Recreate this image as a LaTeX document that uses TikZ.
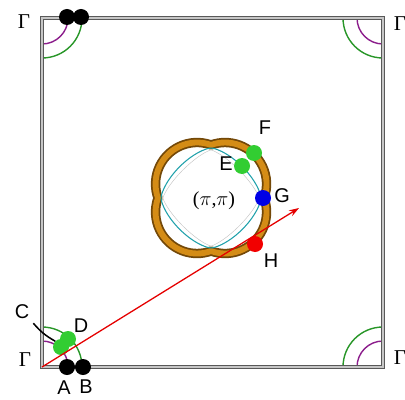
\documentclass[tikz,border=0pt]{standalone}
\usepackage{fontspec}
\setmainfont{Liberation Sans}
\newfontfamily\greekserif{Liberation Serif}
\usetikzlibrary{arrows.meta}

\definecolor{ringbrown}{RGB}{115,72,8}
\definecolor{ringorange}{RGB}{212,140,22}
\definecolor{fscyan}{RGB}{30,160,170}
\definecolor{arcgreen}{RGB}{40,150,40}
\definecolor{arcpurple}{RGB}{140,30,140}
\definecolor{dotgreen}{RGB}{50,205,50}

\begin{document}
\begin{tikzpicture}[x=0.03cm, y=-0.03cm, every node/.style={font=\fontsize{17}{20}\selectfont},
	dot/.style={circle, inner sep=0pt, minimum size=0.48cm},
	gam/.style={font=\greekserif\fontsize{18}{20}\selectfont},
	frame/.style={draw=gray!70!black, double=gray!45, double distance=1.2pt, line width=0.7pt},
	>={Stealth[length=3mm, width=2mm]}]
	\useasboundingbox (0,0) rectangle (405,399);
	% arcs round the Gamma corners
	\begin{scope}
		\clip (42,18) rectangle (383,367);
		\foreach \cx/\cy in {42/18, 383/18, 383/367, 42/367} {
			\draw[arcpurple, line width=1.2pt] (\cx,\cy) circle[radius=26];
			\draw[arcgreen, line width=1.2pt] (\cx,\cy) circle[radius=40];
		}
	\end{scope}
	\draw[frame] (42,18) rectangle (383,367);
	% Fermi surface round (pi,pi), drawn with y up
	\begin{scope}[shift={(211,198)}, yscale=-1]
		\foreach \col/\lw in {ringbrown/8pt, ringorange/5pt}
			\draw[\col, line width=\lw, line join=round] (53.1,0)
				arc[start angle=-19.7, end angle=109.7, radius=41.5]
				arc[start angle=70.3, end angle=199.7, radius=41.5]
				arc[start angle=160.3, end angle=289.7, radius=41.5]
				arc[start angle=250.3, end angle=379.7, radius=41.5] -- cycle;
		\draw[gray!45, line width=0.4pt] plot[domain=0.5:359.5, samples=72, smooth cycle]
			({48*sign(cos(\x))*abs(cos(\x))^1.55}, {48*sign(sin(\x))*abs(sin(\x))^1.55});
		\draw[fscyan, line width=0.9pt] plot[domain=0.5:359.5, samples=72, smooth cycle]
			({50*sign(cos(\x))*abs(cos(\x))^1.35}, {50*sign(sin(\x))*abs(sin(\x))^1.35});
	\end{scope}
	\node[font=\greekserif\fontsize{17}{20}\selectfont] (mpoint) at (214,201) {($\pi$,$\pi$)};
	% points
	\node[dot, fill=black] (topA) at (67,17) {};
	\node[dot, fill=black] (topB) at (81,17) {};
	\node[dot, fill=black] (ptA) at (67,367) {};
	\node[dot, fill=black] (ptB) at (83,367) {};
	\node[dot, fill=dotgreen] (ptC) at (61,347) {};
	\node[dot, fill=dotgreen] (ptD) at (68,339) {};
	\node[dot, fill=dotgreen] (ptE) at (242,166) {};
	\node[dot, fill=dotgreen] (ptF) at (254,153) {};
	\node[dot, fill=blue!90!black] (ptG) at (263,198) {};
	\node[dot, fill=red!95!black] (ptH) at (255,244) {};
	\coordinate (origin) at (42,367);
	\coordinate (tip) at (299,208);
	\draw[->, red!90!black, line width=1.1pt] (origin) -- (tip);
	% labels
	\node[gam] (gTL) at (24,22) {Γ};
	\node[gam] (gTR) at (400,24) {Γ};
	\node[gam] (gBL) at (25,360) {Γ};
	\node[gam] (gBR) at (400,358) {Γ};
	\node (lblA) at (64,388) {A};
	\node (lblB) at (86,387) {B};
	\node (lblC) at (22,312) {C};
	\node (lblD) at (81,326) {D};
	\node (lblE) at (226,164) {E};
	\node (lblF) at (265,128) {F};
	\node (lblG) at (282,196) {G};
	\node (lblH) at (271,261) {H};
	\draw[line width=1.3pt] (lblC.south east) to[bend right=10] (ptC.north west);
\end{tikzpicture}
\end{document}
